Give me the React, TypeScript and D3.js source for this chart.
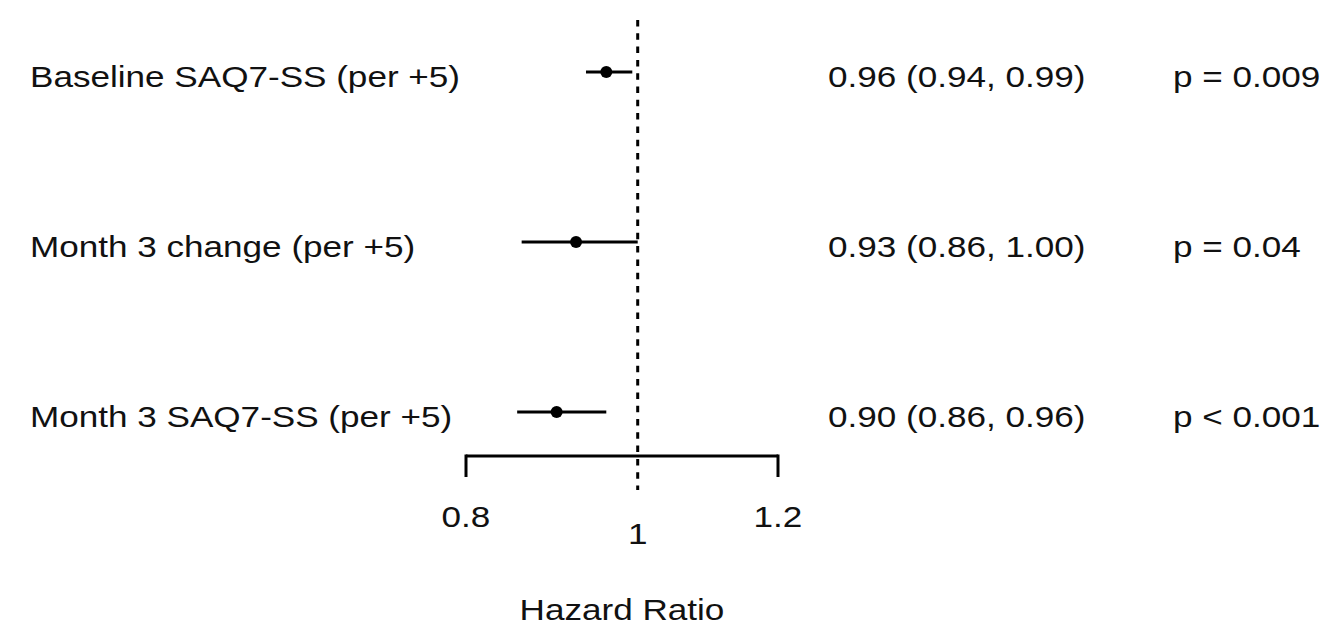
import * as d3 from 'd3';

const LABELS = ['Baseline SAQ7-SS (per +5)', 'Month 3 change (per +5)', 'Month 3 SAQ7-SS (per +5)'];
const HR = [0.96, 0.923, 0.9];
const LOWER = [0.935, 0.86, 0.855];
const UPPER = [0.993, 1.0, 0.96];
const EST_TEXT = ['0.96 (0.94, 0.99)', '0.93 (0.86, 1.00)', '0.90 (0.86, 0.96)'];
const P_TEXT = ['p = 0.009', 'p = 0.04', 'p < 0.001'];
const TICKS = [0.8, 1, 1.2];
const TICK_LABELS = ['0.8', '1', '1.2'];
const X_TITLE = 'Hazard Ratio';

const W = 1324;
const H = 626;
const FONT = '"Liberation Sans", Arial, sans-serif';
const FS = 29.5;
const SX = 1.19; // the picture's text is horizontally stretched

function Txt({ x, y, anchor = 'start', children }: { x: number; y: number; anchor?: string; children: string }) {
  return (
    <text
      transform={`translate(${x},${y}) scale(${SX},1)`}
      textAnchor={anchor}
      fontFamily={FONT}
      fontSize={FS}
      fill="#111"
    >
      {children}
    </text>
  );
}

export default function App() {
  const x = d3.scaleLog().domain([0.8, 1.2]).range([466, 778]);
  const y = d3.scalePoint<string>().domain(LABELS).range([72, 412]);
  const axisY = 456;
  const ref = x(1);

  return (
    <svg
      width={W}
      height={H}
      style={{ position: 'absolute', left: 0, top: 0, background: '#fff' }}
    >
      {/* reference line at HR = 1 */}
      <line x1={ref} x2={ref} y1={20} y2={490} stroke="#000" strokeWidth={3} strokeDasharray="6.5,6.8" />

      {LABELS.map((lab, i) => {
        const cy = y(lab) ?? 0;
        return (
          <g key={lab}>
            <Txt x={30} y={cy + 14.5}>{lab}</Txt>
            <line x1={x(LOWER[i])} x2={x(UPPER[i])} y1={cy} y2={cy} stroke="#000" strokeWidth={3} />
            <circle cx={x(HR[i])} cy={cy} r={6} fill="#000" />
            <Txt x={828} y={cy + 14.5}>{EST_TEXT[i]}</Txt>
            <Txt x={1173} y={cy + 14.5}>{P_TEXT[i]}</Txt>
          </g>
        );
      })}

      {/* x axis */}
      <line x1={x(0.8)} x2={x(1.2)} y1={axisY} y2={axisY} stroke="#000" strokeWidth={3} />
      {TICKS.map((t, i) => (
        <g key={t}>
          {t !== 1 && (
            <line x1={x(t)} x2={x(t)} y1={axisY - 1.5} y2={axisY + 21} stroke="#000" strokeWidth={3} />
          )}
          <Txt x={x(t)} y={t === 1 ? 544 : 527} anchor="middle">{TICK_LABELS[i]}</Txt>
        </g>
      ))}
      <Txt x={x(Math.sqrt(0.8 * 1.2))} y={620} anchor="middle">{X_TITLE}</Txt>
    </svg>
  );
}
